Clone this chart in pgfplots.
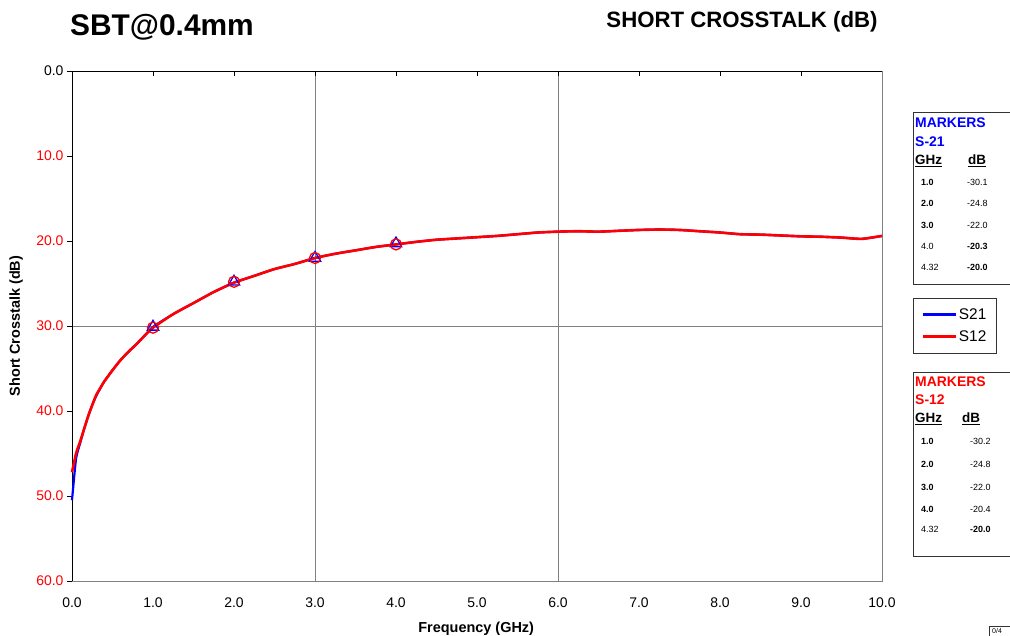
\documentclass[border=0pt]{standalone}
\usepackage{fontspec}
\setmainfont{Liberation Sans}
\usepackage{pgfplots}
\pgfplotsset{compat=1.18}
\usepackage{pgfplotstable}

\pgfplotstableread{
x s21 s12
0.00 50.5 47.2
0.05 45.6 45.0
0.10 43.8 43.6
0.15 42.1 42.1
0.20 40.6 40.6
0.25 39.3 39.3
0.30 38.2 38.1
0.35 37.3 37.3
0.40 36.5 36.5
0.50 35.2 35.2
0.60 34.0 34.0
0.70 33.0 33.0
0.80 32.1 32.1
0.90 31.1 31.1
1.00 30.1 30.2
1.25 28.6 28.6
1.50 27.3 27.3
1.75 26.0 26.0
2.00 24.9 24.9
2.25 24.1 24.1
2.50 23.3 23.3
2.75 22.7 22.7
3.00 22.0 22.0
3.25 21.5 21.5
3.50 21.1 21.1
3.75 20.7 20.7
4.00 20.4 20.4
4.25 20.1 20.1
4.50 19.85 19.85
4.75 19.7 19.7
5.00 19.55 19.55
5.25 19.4 19.4
5.50 19.2 19.2
5.75 19.0 19.0
6.00 18.9 18.9
6.25 18.85 18.85
6.50 18.9 18.9
6.75 18.8 18.8
7.00 18.7 18.7
7.25 18.65 18.65
7.50 18.7 18.7
7.75 18.85 18.85
8.00 19.0 19.0
8.25 19.2 19.2
8.50 19.25 19.25
8.75 19.35 19.35
9.00 19.45 19.45
9.25 19.5 19.5
9.50 19.6 19.6
9.75 19.75 19.75
10.00 19.4 19.4
}\crosstalk

\pgfplotstableread{
x y
1 30.1
2 24.8
3 22.0
4 20.3
}\markA

\pgfplotstableread{
x y
1 30.2
2 24.8
3 22.0
4 20.4
}\markB

\begin{document}
\begin{tikzpicture}
\useasboundingbox (0bp,0bp) rectangle (1010bp,-636bp);
\clip (0bp,0bp) rectangle (1010bp,-636bp);

\node[font=\fontsize{30}{33}\selectfont\bfseries] at (162bp,-27bp) {SBT@0.4mm};
\node[font=\fontsize{22.3}{25}\selectfont\bfseries] at (742bp,-22bp) {SHORT CROSSTALK (dB)};

\begin{axis}[
  at={(72bp,-71bp)}, anchor=north west,
  scale only axis, width=810bp, height=510bp,
  xmin=0, xmax=10, ymin=0, ymax=60,
  y dir=reverse,
  axis line style={draw=none},
  clip=false,
  xtick={0,1,...,10},
  xticklabels={0.0,1.0,2.0,3.0,4.0,5.0,6.0,7.0,8.0,9.0,10.0},
  ytick={0,10,...,60},
  yticklabels={0.0,{\color{red}10.0},{\color{red}20.0},{\color{red}30.0},{\color{red}40.0},{\color{red}50.0},{\color{red}60.0}},
  xtick pos=right, xticklabel pos=left,
  ytick pos=left,
  tick align=inside,
  major tick length=5bp,
  tick style={black, line width=0.8bp},
  y tick style={xshift=-5bp},
  ticklabel style={font=\fontsize{14}{16}\selectfont},
  xticklabel style={yshift=-13bp},
  yticklabel style={xshift=-5bp},
  extra x ticks={3,6}, extra x tick labels={},
  extra y ticks={30}, extra y tick labels={},
  extra tick style={grid=major, major grid style={draw=black!50, line width=0.9bp}},
  xlabel={Frequency (GHz)},
  ylabel={Short Crosstalk (dB)},
  xlabel style={font=\fontsize{14.5}{16}\selectfont\bfseries, at={(axis description cs:0.499,-0.094)}, anchor=center},
  ylabel style={font=\fontsize{14.5}{16}\selectfont\bfseries, at={(axis description cs:-0.069,0.5)}, anchor=center},
  legend style={at={(axis description cs:1.0383,0.555)}, anchor=north west,
    draw=black!80, line width=0.6bp, font=\fontsize{15.5}{17}\selectfont,
    inner xsep=8bp, inner ysep=8bp, row sep=6bp,
    nodes={inner sep=2bp}},
  legend cell align=left,
  legend image code/.code={\draw[#1] (0bp,0bp) -- (33bp,0bp);},
]
\draw[black, line width=0.9bp] (axis cs:0,60) -- (axis cs:0,0) -- (axis cs:10,0);
\draw[black!50, line width=0.9bp] (axis cs:10,0) -- (axis cs:10,60) -- (axis cs:0,60);
\addplot[blue, line width=2.2bp, no marks, smooth, tension=0.35] table[x=x, y=s21] {\crosstalk};
\addlegendentry{S21}
\addplot[red, line width=2.6bp, no marks, smooth, tension=0.35] table[x=x, y=s12] {\crosstalk};
\addlegendentry{S12}
\addplot[forget plot, only marks, blue, mark=triangle, mark size=6.5bp, mark options={line width=1.3bp}] table {\markA};
\addplot[forget plot, only marks, red, mark=o, mark size=5.5bp, mark options={line width=1.3bp}] table {\markB};
\end{axis}

% marker box S-21
\draw[black!80, line width=0.6bp] (913bp,-112bp) rectangle (1030bp,-284bp);
\begin{scope}[every node/.style={anchor=west, inner sep=0pt}]
\node[text=blue, font=\fontsize{14}{16}\selectfont\bfseries] at (915bp,-123bp) {MARKERS};
\node[text=blue, font=\fontsize{14}{16}\selectfont\bfseries] at (915bp,-142bp) {S-21};
\node[font=\fontsize{13.5}{15}\selectfont\bfseries] at (915bp,-161bp) {\underline{GHz}};
\node[font=\fontsize{13.5}{15}\selectfont\bfseries] at (968bp,-161bp) {\underline{dB}};
\node[font=\fontsize{9}{11}\selectfont\bfseries] at (921bp,-182bp) {1.0};
\node[font=\fontsize{9}{11}\selectfont] at (967bp,-182bp) {-30.1};
\node[font=\fontsize{9}{11}\selectfont\bfseries] at (921bp,-203bp) {2.0};
\node[font=\fontsize{9}{11}\selectfont] at (967bp,-203bp) {-24.8};
\node[font=\fontsize{9}{11}\selectfont\bfseries] at (921bp,-225bp) {3.0};
\node[font=\fontsize{9}{11}\selectfont] at (967bp,-225bp) {-22.0};
\node[font=\fontsize{9}{11}\selectfont] at (921bp,-246bp) {4.0};
\node[font=\fontsize{9}{11}\selectfont\bfseries] at (967bp,-246bp) {-20.3};
\node[font=\fontsize{9}{11}\selectfont] at (921bp,-267bp) {4.32};
\node[font=\fontsize{9}{11}\selectfont\bfseries] at (967bp,-267bp) {-20.0};

% marker box S-12
\node[text=red, font=\fontsize{14}{16}\selectfont\bfseries] at (915bp,-382bp) {MARKERS};
\node[text=red, font=\fontsize{14}{16}\selectfont\bfseries] at (915bp,-400bp) {S-12};
\node[font=\fontsize{13.5}{15}\selectfont\bfseries] at (915bp,-419bp) {\underline{GHz}};
\node[font=\fontsize{13.5}{15}\selectfont\bfseries] at (962bp,-419bp) {\underline{dB}};
\node[font=\fontsize{9}{11}\selectfont\bfseries] at (921bp,-441bp) {1.0};
\node[font=\fontsize{9}{11}\selectfont] at (970bp,-441bp) {-30.2};
\node[font=\fontsize{9}{11}\selectfont\bfseries] at (921bp,-464bp) {2.0};
\node[font=\fontsize{9}{11}\selectfont] at (970bp,-464bp) {-24.8};
\node[font=\fontsize{9}{11}\selectfont\bfseries] at (921bp,-487bp) {3.0};
\node[font=\fontsize{9}{11}\selectfont] at (970bp,-487bp) {-22.0};
\node[font=\fontsize{9}{11}\selectfont\bfseries] at (921bp,-509bp) {4.0};
\node[font=\fontsize{9}{11}\selectfont] at (970bp,-509bp) {-20.4};
\node[font=\fontsize{9}{11}\selectfont] at (921bp,-529bp) {4.32};
\node[font=\fontsize{9}{11}\selectfont\bfseries] at (970bp,-529bp) {-20.0};
\node[font=\fontsize{7}{8}\selectfont] at (992bp,-631bp) {0/4};
\end{scope}
\draw[black!80, line width=0.6bp] (913bp,-372bp) rectangle (1030bp,-556bp);
\draw[black!80, line width=0.6bp] (989bp,-626bp) rectangle (1030bp,-650bp);
\end{tikzpicture}
\end{document}
